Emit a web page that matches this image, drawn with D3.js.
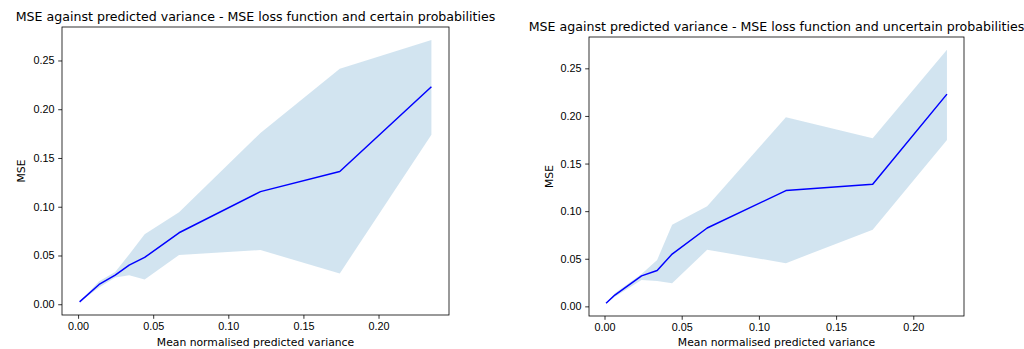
<!DOCTYPE html>
<html>
<head>
<meta charset="utf-8">
<script src="https://cdn.jsdelivr.net/npm/d3@7"></script>
<style>
  html, body { margin: 0; padding: 0; background: #fff; }
  svg { display: block; font-family: "DejaVu Sans", sans-serif; }
  .tick text { font-size: 10.8px; fill: #000; }
  .tick line { stroke: #000; stroke-width: 0.8; }
</style>
</head>
<body>
<svg id="fig" width="1024" height="349"></svg>
<script>
// Certain probabilities
const certainVariance = [0.001, 0.014, 0.0247, 0.034, 0.0443, 0.0672, 0.1214, 0.1742, 0.2352];
const certainMse      = [0.0024, 0.0203, 0.0298, 0.0401, 0.048, 0.0733, 0.1155, 0.1361, 0.223];
const certainUpper    = [0.0024, 0.0237, 0.0332, 0.0511, 0.0717, 0.0943, 0.1756, 0.2415, 0.2709];
const certainLower    = [0.0024, 0.0172, 0.0275, 0.0298, 0.0254, 0.0504, 0.0556, 0.0316, 0.1739];

// Uncertain probabilities
const uncertainVariance = [0.001, 0.0067, 0.024, 0.0341, 0.0438, 0.0665, 0.1175, 0.1737, 0.2218];
const uncertainMse      = [0.0032, 0.0119, 0.032, 0.0376, 0.0549, 0.0823, 0.1216, 0.1283, 0.2229];
const uncertainUpper    = [0.0032, 0.0137, 0.0341, 0.0488, 0.0858, 0.1051, 0.1986, 0.1765, 0.2696];
const uncertainLower    = [0.0032, 0.0101, 0.0277, 0.0267, 0.0243, 0.0594, 0.0454, 0.0805, 0.1747];

const xTicks = [0, 0.05, 0.10, 0.15, 0.20];
const yTicks = [0, 0.05, 0.10, 0.15, 0.20, 0.25];

const titles = [
  "MSE against predicted variance - MSE loss function and certain probabilities",
  "MSE against predicted variance - MSE loss function and uncertain probabilities"
];
const xLabel = "Mean normalised predicted variance";
const yLabel = "MSE";

const panels = [
  { title: titles[0], x: certainVariance, mse: certainMse, up: certainUpper, lo: certainLower,
    box: { left: 62, right: 449, top: 27, bottom: 315 }, yLabelX: 21 },
  { title: titles[1], x: uncertainVariance, mse: uncertainMse, up: uncertainUpper, lo: uncertainLower,
    box: { left: 589, right: 964, top: 37, bottom: 316 }, yLabelX: 549 }
];

const svg = d3.select("#fig");

// pad an extent by 5% on each side
function padded(lo, hi) {
  const m = (hi - lo) * 0.05;
  return [lo - m, hi + m];
}

panels.forEach(p => {
  const b = p.box;
  const rows = p.x.map((v, i) => ({ x: v, y: p.mse[i], up: p.up[i], lo: p.lo[i] }));

  const x = d3.scaleLinear()
    .domain(padded(d3.min(p.x), d3.max(p.x)))
    .range([b.left, b.right]);
  const y = d3.scaleLinear()
    .domain(padded(d3.min(p.lo.concat(p.mse)), d3.max(p.up.concat(p.mse))))
    .range([b.bottom, b.top]);

  const g = svg.append("g");

  // spread band
  g.append("path")
    .datum(rows)
    .attr("fill", "#1f77b4")
    .attr("fill-opacity", 0.2)
    .attr("d", d3.area().x(d => x(d.x)).y0(d => y(d.lo)).y1(d => y(d.up)));

  // mean MSE line
  g.append("path")
    .datum(rows)
    .attr("fill", "none")
    .attr("stroke", "#0000ff")
    .attr("stroke-width", 1.5)
    .attr("stroke-linejoin", "round")
    .attr("d", d3.line().x(d => x(d.x)).y(d => y(d.y)));

  // axes
  const xAxis = g.append("g")
    .attr("transform", `translate(0,${b.bottom})`)
    .call(d3.axisBottom(x).tickValues(xTicks).tickFormat(d3.format(".2f"))
      .tickSize(3.8).tickPadding(3.6).tickSizeOuter(0));
  xAxis.select(".domain").remove();

  const yAxis = g.append("g")
    .attr("transform", `translate(${b.left},0)`)
    .call(d3.axisLeft(y).tickValues(yTicks).tickFormat(d3.format(".2f"))
      .tickSize(3.8).tickPadding(3.8).tickSizeOuter(0));
  yAxis.select(".domain").remove();

  // frame
  g.append("rect")
    .attr("x", b.left).attr("y", b.top)
    .attr("width", b.right - b.left).attr("height", b.bottom - b.top)
    .attr("fill", "none").attr("stroke", "#000").attr("stroke-width", 0.8);

  // title
  g.append("text")
    .attr("x", (b.left + b.right) / 2).attr("y", b.top - 6.5)
    .attr("text-anchor", "middle")
    .attr("font-size", 12.6)
    .text(p.title);

  // axis labels
  g.append("text")
    .attr("x", (b.left + b.right) / 2).attr("y", 346)
    .attr("text-anchor", "middle")
    .attr("font-size", 10.8)
    .text(xLabel);

  g.append("text")
    .attr("transform", `translate(${p.yLabelX},${(b.top + b.bottom) / 2}) rotate(-90)`)
    .attr("text-anchor", "middle")
    .attr("dominant-baseline", "central")
    .attr("font-size", 10.8)
    .text(yLabel);
});
</script>
</body>
</html>
